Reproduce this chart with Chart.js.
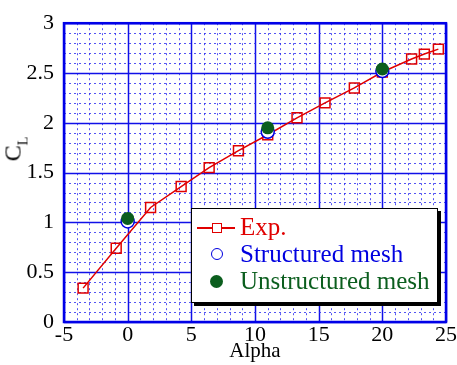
<!DOCTYPE html>
<html>
<head>
<meta charset="utf-8">
<script src="https://cdn.jsdelivr.net/npm/chart.js@4"></script>
<style>
  html, body { margin: 0; padding: 0; background: #fff; }
  #wrap { position: relative; width: 457px; height: 365px; }
  #ytitle { position: absolute; left: 18px; top: 149px; transform: translate(-50%, -50%) rotate(-90deg);
    font: 24px 'Liberation Serif', serif; color: #000; white-space: nowrap; line-height: 24px; }
  #ytitle sub { font-size: 14px; vertical-align: -7px; }
  #legend { position: absolute; left: 191px; top: 208px; width: 247px; height: 95px; box-sizing: border-box;
    border: 1.5px solid #000; box-shadow: 3px 3px 0 #000; background: #fff;
    font: 25px 'Liberation Serif', serif; }
  .row { position: absolute; left: 0; height: 27px; line-height: 27px; white-space: nowrap; }
  .row span.t { position: absolute; left: 48px; top: 0; }
  .mk { position: absolute; box-sizing: border-box; }
</style>
</head>
<body>
<div id="wrap">
  <canvas id="c" width="457" height="365"></canvas>
  <div id="ytitle">C<sub>L</sub></div>
  <div id="legend">
    <div class="row" style="top:4px">
      <div class="mk" style="left:5px;top:14px;width:38px;height:1.5px;background:#e00000"></div>
      <div class="mk" style="left:20px;top:10px;width:10px;height:10px;border:1.5px solid #e00000;background:#fff"></div>
      <span class="t" style="color:#e00000">Exp.</span>
    </div>
    <div class="row" style="top:31px">
      <div class="mk" style="left:19px;top:8px;width:12px;height:12px;border:1.5px solid #0000e0;border-radius:50%"></div>
      <span class="t" style="color:#0000e0">Structured mesh</span>
    </div>
    <div class="row" style="top:58px">
      <div class="mk" style="left:18px;top:8px;width:13px;height:13px;background:#0b5e1e;border-radius:50%"></div>
      <span class="t" style="color:#0b5e1e">Unstructured mesh</span>
    </div>
  </div>
</div>
<script>
const expAlpha = [-3.5, -0.9, 1.8, 4.2, 6.4, 8.7, 11.0, 13.3, 15.5, 17.8, 20.0, 22.3, 23.3, 24.4];
const expCL = [0.34, 0.74, 1.15, 1.36, 1.55, 1.72, 1.88, 2.05, 2.20, 2.35, 2.51, 2.64, 2.69, 2.74];
const meshAlpha = [0, 11, 20];
const structuredCL = [1.01, 1.91, 2.52];
const unstructuredCL = [1.04, 1.95, 2.54];
const xTicks = [-5, 0, 5, 10, 15, 20, 25];
const yTicks = [0, 0.5, 1, 1.5, 2, 2.5, 3];

const pts = (xs, ys) => xs.map((x, i) => ({ x, y: ys[i] }));
const serif = "'Liberation Serif', 'Times New Roman', serif";
Chart.defaults.font.family = serif;

// blue grid: solid majors, dotted minors, plus a frame round the plot
const gridPlugin = {
  id: 'blueGrid',
  beforeDatasetsDraw(chart) {
    const { ctx, chartArea: a, scales: { x, y } } = chart;
    ctx.save();
    const line = (x1, y1, x2, y2, major) => {
      ctx.beginPath();
      ctx.lineWidth = major ? 1.5 : 1;
      ctx.strokeStyle = major ? '#1010e8' : 'rgba(40,40,240,0.8)';
      ctx.setLineDash(major ? [] : [2, 3]);
      ctx.moveTo(x1, y1); ctx.lineTo(x2, y2); ctx.stroke();
    };
    for (let v = -5; v <= 25; v++) {
      const px = Math.round(x.getPixelForValue(v)) + 0.5;
      line(px, a.top, px, a.bottom, v % 5 === 0);
    }
    for (let k = 0; k <= 30; k++) {
      const py = Math.round(y.getPixelForValue(k / 10)) + 0.5;
      line(a.left, py, a.right, py, k % 5 === 0);
    }
    ctx.setLineDash([]);
    ctx.lineWidth = 2.5;
    ctx.strokeStyle = '#0000e8';
    ctx.strokeRect(a.left, a.top, a.right - a.left, a.bottom - a.top);
    ctx.restore();
  }
};

new Chart(document.getElementById('c'), {
  type: 'scatter',
  data: {
    datasets: [
      {
        label: 'Exp.',
        data: pts(expAlpha, expCL),
        showLine: true,
        borderColor: '#e00000',
        borderWidth: 1.5,
        pointStyle: 'rect',
        pointRadius: 7,
        pointBorderWidth: 1.5,
        pointBorderColor: '#e00000',
        pointBackgroundColor: 'rgba(0,0,0,0)',
        order: 3,
      },
      {
        label: 'Structured mesh',
        data: pts(meshAlpha, structuredCL),
        pointStyle: 'circle',
        pointRadius: 6.5,
        pointBorderWidth: 1.5,
        pointBorderColor: '#0000e0',
        pointBackgroundColor: '#fff',
        order: 2,
      },
      {
        label: 'Unstructured mesh',
        data: pts(meshAlpha, unstructuredCL),
        pointStyle: 'circle',
        pointRadius: 6.5,
        pointBorderWidth: 0,
        pointBackgroundColor: '#0b5e1e',
        order: 1,
      },
    ],
  },
  options: {
    responsive: false,
    animation: false,
    events: [],
    layout: { padding: { top: 17, right: 11, left: 0, bottom: 0 } },
    plugins: { legend: { display: false }, tooltip: { enabled: false } },
    scales: {
      x: {
        type: 'linear', min: -5, max: 25,
        afterBuildTicks: s => { s.ticks = xTicks.map(value => ({ value })); },
        afterFit: s => { s.height = 43; },
        grid: { display: false, drawTicks: false },
        border: { display: false },
        ticks: { color: '#000', padding: 0, maxRotation: 0, callback: v => String(v),
          font: { family: serif, size: 22 } },
        title: { display: true, text: 'Alpha', color: '#000', padding: { top: 0, bottom: 1 },
          font: { family: serif, size: 21 } },
      },
      y: {
        type: 'linear', min: 0, max: 3,
        afterBuildTicks: s => { s.ticks = yTicks.map(value => ({ value })); },
        afterFit: s => { s.width = 64; },
        grid: { display: false, drawTicks: false },
        border: { display: false },
        ticks: { color: '#000', padding: 10, callback: v => String(v),
          font: { family: serif, size: 22 } },
      },
    },
  },
  plugins: [gridPlugin],
});
</script>
</body>
</html>
